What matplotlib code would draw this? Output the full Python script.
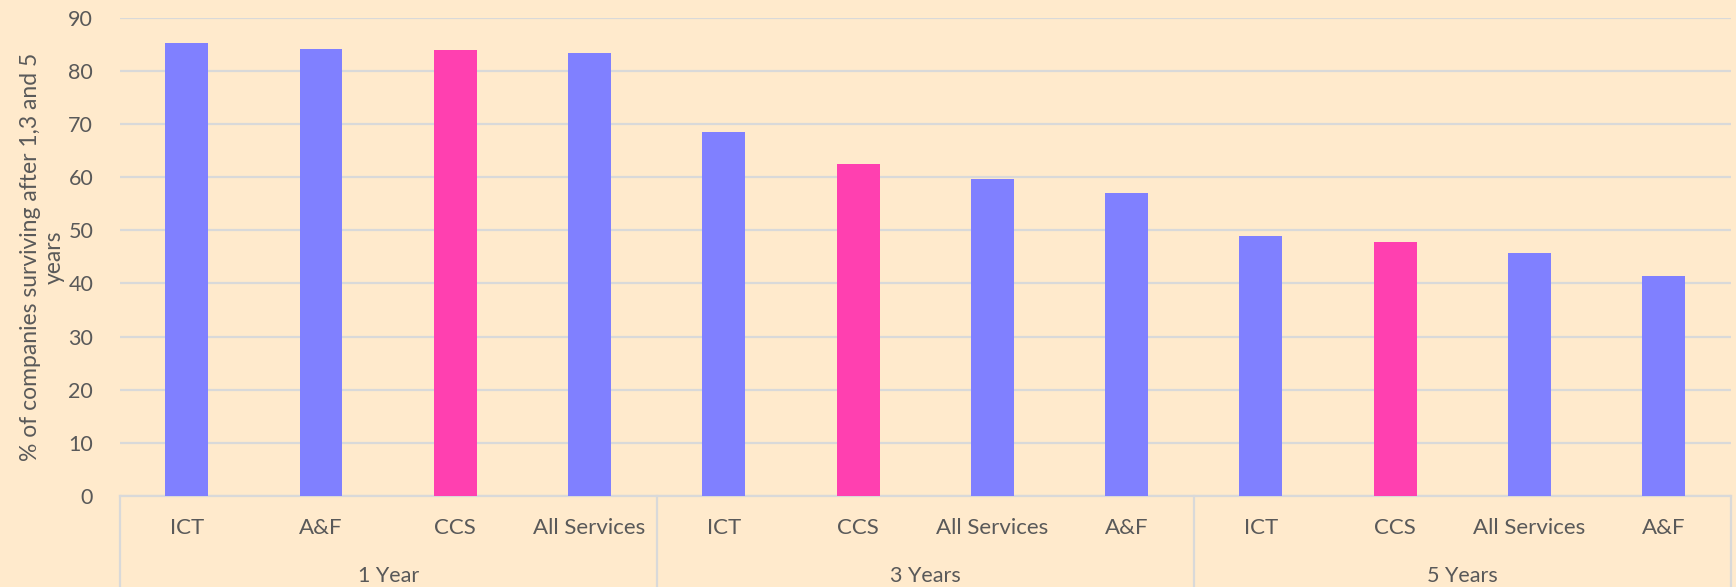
import numpy as np
import matplotlib.pyplot as plt
import matplotlib.transforms as mtransforms

# data
groups = ["1 Year", "3 Years", "5 Years"]
categories_1y = ["ICT", "A&F", "CCS", "All Services"]
values_1y = [85.2, 84.1, 83.9, 83.3]
categories_3y = ["ICT", "CCS", "All Services", "A&F"]
values_3y = [68.5, 62.5, 59.7, 57.0]
categories_5y = ["ICT", "CCS", "All Services", "A&F"]
values_5y = [48.9, 47.8, 45.8, 41.3]
highlight = "CCS"

bg = "#FFEACC"
blue = "#8080FF"
pink = "#FF40B0"
grid_c = "#D9D9D9"
text_c = "#595959"

plt.rcParams['font.family'] = ['Lato', 'DejaVu Sans']

cats = categories_1y + categories_3y + categories_5y
vals = values_1y + values_3y + values_5y
group_sizes = [len(categories_1y), len(categories_3y), len(categories_5y)]
x = np.arange(len(cats))
colors = [pink if c == highlight else blue for c in cats]

fig = plt.figure(figsize=(17.36, 5.87), dpi=100, facecolor=bg)
ax = fig.add_axes([0.0689, 0.155, 0.9281, 0.815], facecolor=bg)

ax.bar(x, vals, width=0.32, color=colors, zorder=3)

ax.set_xlim(-0.5, len(cats) - 0.5)
ax.set_ylim(0, 90)
ax.set_yticks(np.arange(0, 91, 10))
ax.yaxis.grid(True, color=grid_c, lw=1.6, zorder=0)
ax.set_axisbelow(True)

for s in ["top", "right", "left"]:
    ax.spines[s].set_visible(False)
ax.spines["bottom"].set_color(grid_c)
ax.spines["bottom"].set_linewidth(1.6)

ax.tick_params(axis="both", length=0, colors=text_c)
ax.tick_params(axis="x", pad=16, labelsize=16)
ax.tick_params(axis="y", pad=19, labelsize=15.5)
ax.set_xticks(x)
ax.set_xticklabels(cats)

ax.set_ylabel("% of companies surviving after 1,3 and 5\nyears",
              fontsize=16.5, color=text_c, linespacing=1.15)
ax.yaxis.set_label_coords(-0.034, 0.5)

# grouped category axis: separators and group names
trans = mtransforms.blended_transform_factory(ax.transData, ax.transAxes)
edges = np.concatenate([[0], np.cumsum(group_sizes)]) - 0.5
for e in edges:
    ax.plot([e, e], [0, -0.2], transform=trans, color=grid_c, lw=1.6,
            clip_on=False)
for i, g in enumerate(groups):
    mid = (edges[i] + edges[i + 1]) / 2
    ax.text(mid, -0.168, g, transform=trans, ha="center", va="center",
            fontsize=15.5, color=text_c)

fig.savefig("out.png", dpi=100, facecolor=bg)
